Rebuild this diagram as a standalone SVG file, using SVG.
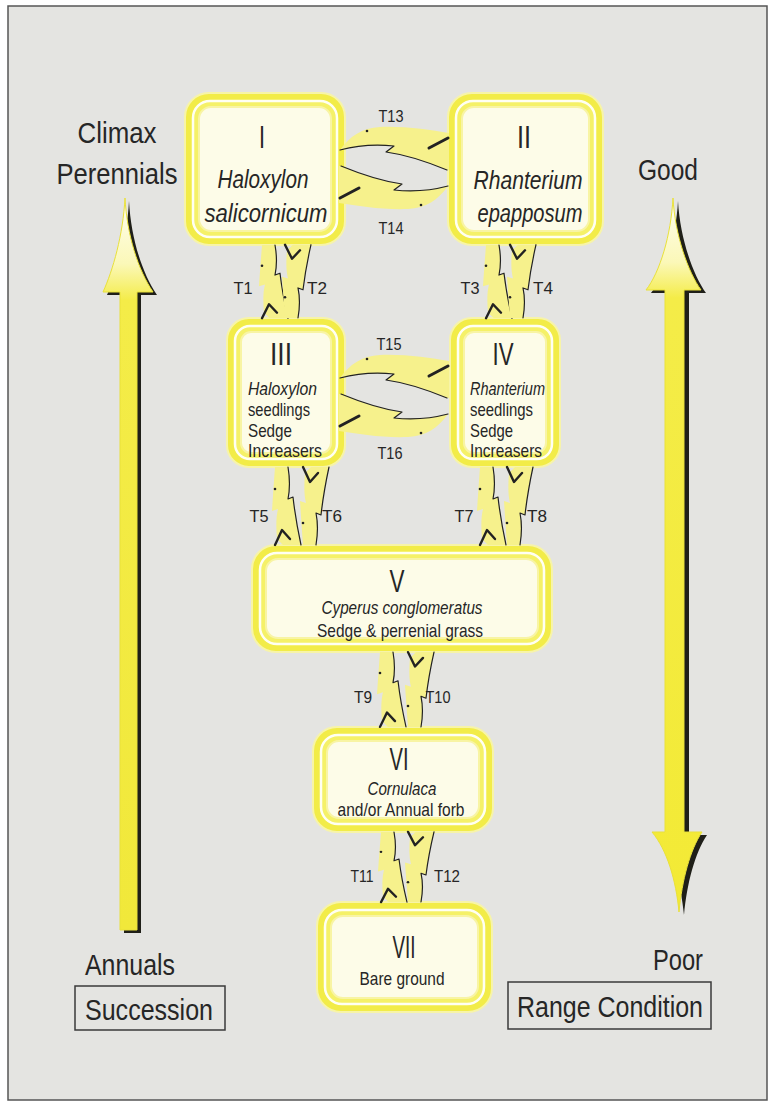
<svg xmlns="http://www.w3.org/2000/svg" xmlns:xlink="http://www.w3.org/1999/xlink" width="775" height="1106" viewBox="0 0 775 1106">
<style>
.t{font-family:"Liberation Sans Narrow","Liberation Sans",Arial,sans-serif;fill:#262626;}
.big{font-size:30px;}
.num{font-size:31px;text-anchor:middle;}
.lab{font-size:17px;text-anchor:middle;}
.n26{font-size:26px;text-anchor:middle;}
.n19{font-size:19px;}
.c{text-anchor:middle;}
.it{font-style:italic;}
.no{fill:#f2ec48;stroke:#f7f4a8;stroke-width:2;}
.nw{fill:#f5f168;stroke:#fffff2;stroke-width:2.5;}
.ni{fill:#fdfce8;stroke:#f8f4a4;stroke-width:2;}
.ink{fill:none;stroke:#222;stroke-linejoin:round;stroke-linecap:round;}
.bf{fill:#f6f18c;}
</style>
<defs>
<linearGradient id="gl" x1="0" y1="198" x2="0" y2="930" gradientUnits="userSpaceOnUse">
<stop offset="0" stop-color="#fffef2"/>
<stop offset="0.09" stop-color="#fbf8b8"/>
<stop offset="0.14" stop-color="#f4ec48"/>
<stop offset="1" stop-color="#f1e83a"/>
</linearGradient>
<linearGradient id="gr" x1="0" y1="198" x2="0" y2="912" gradientUnits="userSpaceOnUse">
<stop offset="0" stop-color="#fffef2"/>
<stop offset="0.09" stop-color="#fbf8b8"/>
<stop offset="0.14" stop-color="#f4ec48"/>
<stop offset="1" stop-color="#f3ea35"/>
</linearGradient>
<g id="bolt">
<path class="bf" d="M-6,0 L7,0 C9,12 9,22 7,32 L12,30 C14,48 17,64 20,78 L2,78 L-4,72 C-5,60 -5,50 -3,42 L-9,44 C-8,28 -7,14 -6,0Z"/>
<path class="ink" stroke-width="1.2" d="M7,0 C9,12 9,22 7,32 L12,30 C14,48 17,64 20,78"/>
<path class="ink" stroke-width="2.4" d="M-6,78 L1,63 L9,72"/>
<circle cx="-6" cy="22" r="1.3" fill="#222"/>
</g>
<g id="hbolt">
<path class="bf" d="M340,150 C350,136 362,128 380,127 C405,126 430,130 449,133 L449,170 L447,170 C430,163 408,155 386,152 L394,146 C375,144 355,146 340,150Z"/>
<path class="ink" stroke-width="1.2" d="M340,150 C355,146 375,144 394,146 L386,152 C408,155 430,163 447,170"/>
<path class="ink" stroke-width="3" d="M429,148 L448,138"/>
<circle cx="367" cy="131" r="1.3" fill="#222"/>
</g>
</defs>

<rect x="0" y="0" width="775" height="1106" fill="#ffffff"/>
<rect x="8" y="6" width="759" height="1094" fill="#e4e4e1" stroke="#555" stroke-width="1.5"/>

<!-- Succession arrow -->
<g id="succession-arrow">
<path transform="translate(4,3)" fill="#1f1f18" d="M125,198 C127,235 138,270 153,292 L137,292 L137,930 L120,930 L120,292 L103,292 C113,270 123,235 125,198Z"/>
<path fill="url(#gl)" stroke="#e9e13a" stroke-width="1" d="M125,198 C127,235 138,270 153,292 L137,292 L137,930 L120,930 L120,292 L103,292 C113,270 123,235 125,198Z"/>
</g>

<!-- Range condition arrow -->
<g id="range-arrow">
<path transform="translate(5,3)" fill="#1f1f18" d="M673,198 C675,235 688,272 701,290 L684,290 L684,832 L702,832 C690,850 682,880 679,912 C676,880 667,850 652,832 L665,832 L665,290 L646,290 C660,272 671,235 673,198Z"/>
<path fill="url(#gr)" stroke="#e9e13a" stroke-width="1" d="M673,198 C675,235 688,272 701,290 L684,290 L684,832 L702,832 C690,850 682,880 679,912 C676,880 667,850 652,832 L665,832 L665,290 L646,290 C660,272 671,235 673,198Z"/>
</g>

<!-- side labels -->
<g id="labels">
<text class="t big c" x="117" y="143" textLength="79" lengthAdjust="spacingAndGlyphs">Climax</text>
<text class="t big c" x="117" y="184" textLength="121" lengthAdjust="spacingAndGlyphs">Perennials</text>
<text class="t big c" x="668" y="180" textLength="60" lengthAdjust="spacingAndGlyphs">Good</text>
<text class="t big c" x="130" y="975" textLength="90" lengthAdjust="spacingAndGlyphs">Annuals</text>
<rect x="75" y="986" width="150" height="44" fill="none" stroke="#3a3a3a" stroke-width="1.5"/>
<text class="t big c" x="149" y="1020" textLength="128" lengthAdjust="spacingAndGlyphs">Succession</text>
<text class="t big c" x="678" y="970" textLength="50" lengthAdjust="spacingAndGlyphs">Poor</text>
<rect x="508" y="982" width="203" height="47" fill="none" stroke="#3a3a3a" stroke-width="1.5"/>
<text class="t big c" x="610" y="1017" textLength="186" lengthAdjust="spacingAndGlyphs">Range Condition</text>
</g>

<!-- nodes -->
<g id="node-I">
<rect class="no" x="185" y="93" width="160" height="152" rx="24"/>
<rect class="nw" x="193" y="101" width="144" height="136" rx="17"/>
<rect class="ni" x="199" y="107" width="132" height="124" rx="12"/>
<text class="t num" x="262" y="148" textLength="6" lengthAdjust="spacingAndGlyphs">I</text>
<text class="t n26 it" x="263" y="188" textLength="91" lengthAdjust="spacingAndGlyphs">Haloxylon</text>
<text class="t n26 it" x="266" y="222" textLength="123" lengthAdjust="spacingAndGlyphs">salicornicum</text>
</g>
<g id="node-II">
<rect class="no" x="448" y="93" width="155" height="152" rx="24"/>
<rect class="nw" x="456" y="101" width="139" height="136" rx="17"/>
<rect class="ni" x="462" y="107" width="127" height="124" rx="12"/>
<text class="t num" x="524" y="148" textLength="14" lengthAdjust="spacingAndGlyphs">II</text>
<text class="t n26 it" x="528" y="189" textLength="109" lengthAdjust="spacingAndGlyphs">Rhanterium</text>
<text class="t n26 it" x="530" y="222" textLength="105" lengthAdjust="spacingAndGlyphs">epapposum</text>
</g>
<g id="node-III">
<rect class="no" x="227" y="318" width="118" height="149" rx="22"/>
<rect class="nw" x="235" y="326" width="102" height="133" rx="15"/>
<rect class="ni" x="241" y="332" width="90" height="121" rx="10"/>
<text class="t num" x="281" y="365" textLength="22" lengthAdjust="spacingAndGlyphs">III</text>
<text class="t n19 it" x="248" y="395" textLength="69" lengthAdjust="spacingAndGlyphs">Haloxylon</text>
<text class="t n19" x="248" y="416" textLength="62" lengthAdjust="spacingAndGlyphs">seedlings</text>
<text class="t n19" x="248" y="437" textLength="44" lengthAdjust="spacingAndGlyphs">Sedge</text>
<text class="t n19" x="248" y="457" textLength="74" lengthAdjust="spacingAndGlyphs">Increasers</text>
</g>
<g id="node-IV">
<rect class="no" x="450" y="318" width="110" height="149" rx="22"/>
<rect class="nw" x="458" y="326" width="94" height="133" rx="15"/>
<rect class="ni" x="464" y="332" width="82" height="121" rx="10"/>
<text class="t num" x="503" y="365" textLength="21" lengthAdjust="spacingAndGlyphs">IV</text>
<text class="t n19 it" x="470" y="395" textLength="75" lengthAdjust="spacingAndGlyphs">Rhanterium</text>
<text class="t n19" x="470" y="416" textLength="63" lengthAdjust="spacingAndGlyphs">seedlings</text>
<text class="t n19" x="470" y="437" textLength="43" lengthAdjust="spacingAndGlyphs">Sedge</text>
<text class="t n19" x="470" y="457" textLength="72" lengthAdjust="spacingAndGlyphs">Increasers</text>
</g>
<g id="node-V">
<rect class="no" x="252" y="545" width="300" height="107" rx="24"/>
<rect class="nw" x="260" y="553" width="284" height="91" rx="17"/>
<rect class="ni" x="266" y="559" width="272" height="79" rx="12"/>
<text class="t num" x="397" y="592" textLength="15" lengthAdjust="spacingAndGlyphs">V</text>
<text class="t n19 it c" x="402" y="614" textLength="161" lengthAdjust="spacingAndGlyphs">Cyperus conglomeratus</text>
<text class="t n19 c" x="400" y="637" textLength="166" lengthAdjust="spacingAndGlyphs">Sedge &amp; perrenial grass</text>
</g>
<g id="node-VI">
<rect class="no" x="313" y="727" width="180" height="105" rx="24"/>
<rect class="nw" x="321" y="735" width="164" height="89" rx="17"/>
<rect class="ni" x="327" y="741" width="152" height="77" rx="12"/>
<text class="t num" x="399" y="770" textLength="19" lengthAdjust="spacingAndGlyphs">VI</text>
<text class="t n19 it c" x="402" y="795" textLength="69" lengthAdjust="spacingAndGlyphs">Cornulaca</text>
<text class="t n19 c" x="401" y="816" textLength="127" lengthAdjust="spacingAndGlyphs">and/or Annual forb</text>
</g>
<g id="node-VII">
<rect class="no" x="317" y="902" width="175" height="110" rx="24"/>
<rect class="nw" x="325" y="910" width="159" height="94" rx="17"/>
<rect class="ni" x="331" y="916" width="147" height="82" rx="12"/>
<text class="t num" x="404" y="958" textLength="23" lengthAdjust="spacingAndGlyphs">VII</text>
<text class="t n19 c" x="402" y="985" textLength="85" lengthAdjust="spacingAndGlyphs">Bare ground</text>
</g>

<!-- connectors -->
<g id="connectors">
<use href="#hbolt"/>
<use href="#hbolt" transform="rotate(180,394,168)"/>
<use href="#hbolt" transform="translate(0,228)"/>
<use href="#hbolt" transform="translate(0,228) rotate(180,394,168)"/>
<use href="#bolt" transform="translate(268,245) scale(1,0.94)"/>
<use href="#bolt" transform="translate(291,318) scale(1,-0.94)"/>
<use href="#bolt" transform="translate(492,245) scale(1,0.94)"/>
<use href="#bolt" transform="translate(516,318) scale(1,-0.94)"/>
<use href="#bolt" transform="translate(281,467)"/>
<use href="#bolt" transform="translate(309,545) scale(1,-1)"/>
<use href="#bolt" transform="translate(486,467)"/>
<use href="#bolt" transform="translate(513,545) scale(1,-1)"/>
<use href="#bolt" transform="translate(386,652) scale(1,0.96)"/>
<use href="#bolt" transform="translate(414,727) scale(1,-0.96)"/>
<use href="#bolt" transform="translate(387,832) scale(1,0.9)"/>
<use href="#bolt" transform="translate(414,902) scale(1,-0.9)"/>
<g>
<text class="t lab" x="391" y="122" textLength="25" lengthAdjust="spacingAndGlyphs">T13</text>
<text class="t lab" x="391" y="234" textLength="25" lengthAdjust="spacingAndGlyphs">T14</text>
<text class="t lab" x="389" y="350" textLength="25" lengthAdjust="spacingAndGlyphs">T15</text>
<text class="t lab" x="390" y="459" textLength="25" lengthAdjust="spacingAndGlyphs">T16</text>
<text class="t lab" x="243" y="294" textLength="19" lengthAdjust="spacingAndGlyphs">T1</text>
<text class="t lab" x="317" y="294" textLength="20" lengthAdjust="spacingAndGlyphs">T2</text>
<text class="t lab" x="470" y="294" textLength="19" lengthAdjust="spacingAndGlyphs">T3</text>
<text class="t lab" x="543" y="294" textLength="20" lengthAdjust="spacingAndGlyphs">T4</text>
<text class="t lab" x="259" y="522" textLength="19" lengthAdjust="spacingAndGlyphs">T5</text>
<text class="t lab" x="332" y="522" textLength="20" lengthAdjust="spacingAndGlyphs">T6</text>
<text class="t lab" x="464" y="522" textLength="19" lengthAdjust="spacingAndGlyphs">T7</text>
<text class="t lab" x="537" y="522" textLength="20" lengthAdjust="spacingAndGlyphs">T8</text>
<text class="t lab" x="363" y="703" textLength="18" lengthAdjust="spacingAndGlyphs">T9</text>
<text class="t lab" x="438" y="703" textLength="25" lengthAdjust="spacingAndGlyphs">T10</text>
<text class="t lab" x="362" y="882" textLength="23" lengthAdjust="spacingAndGlyphs">T11</text>
<text class="t lab" x="447" y="882" textLength="26" lengthAdjust="spacingAndGlyphs">T12</text>
</g>
</g>
</svg>
